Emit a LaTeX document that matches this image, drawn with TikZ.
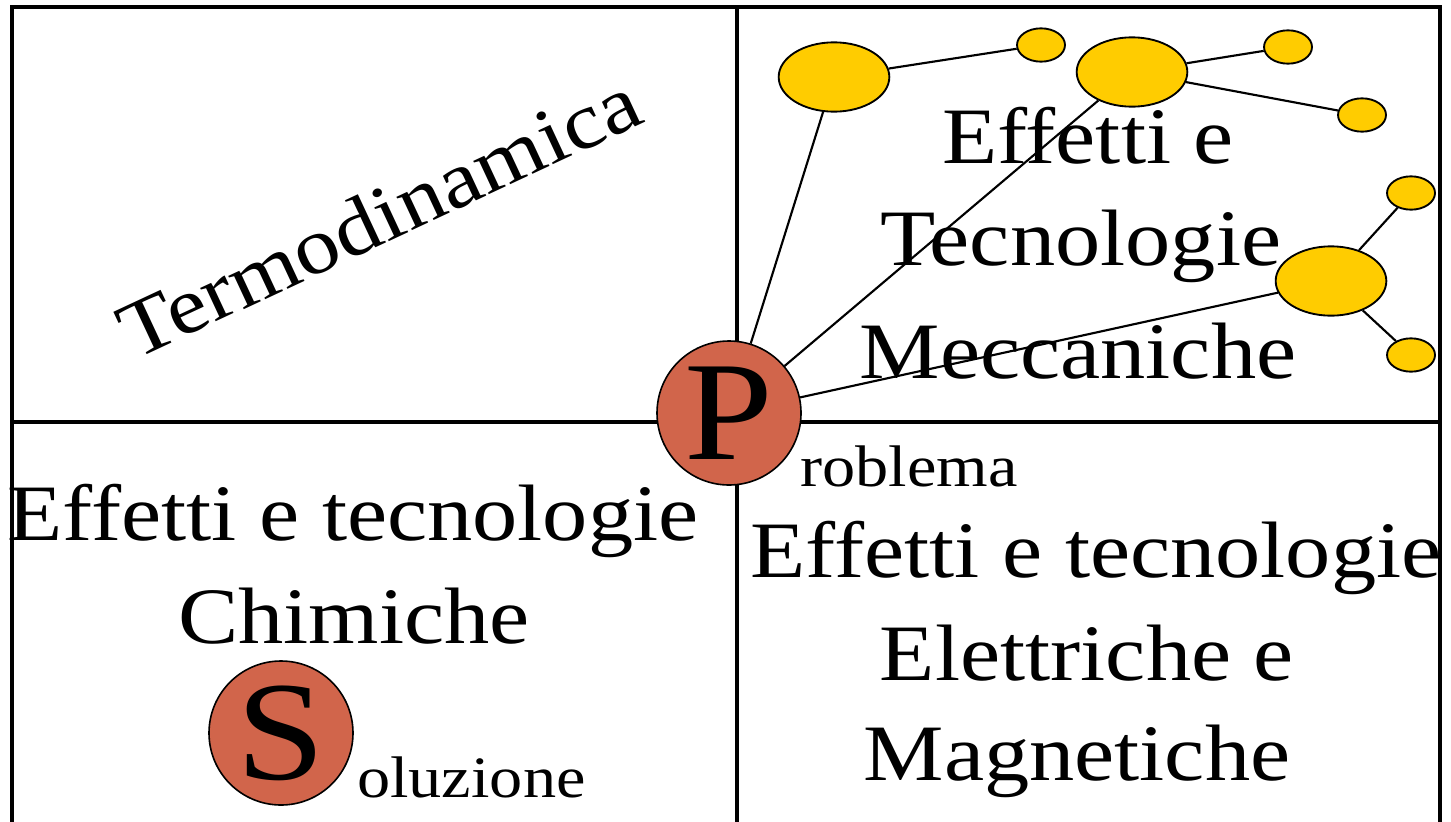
\documentclass[tikz,border=0pt]{standalone}
\usepackage{fontspec}
\setmainfont[FakeStretch=1.13]{Liberation Serif}
\usetikzlibrary{shapes.geometric}
\definecolor{probred}{RGB}{209,101,75}
\definecolor{gold}{RGB}{255,204,0}
\begin{document}
\begin{tikzpicture}[x=0.75pt,y=-0.75pt,
  frame/.style={line width=2.4pt},
  link/.style={line width=1.6pt},
  bigell/.style={ellipse,draw,fill=gold,line width=1.4pt,inner sep=0pt,minimum width=83pt,minimum height=52pt},
  smallell/.style={ellipse,draw,fill=gold,line width=1.4pt,inner sep=0pt,minimum width=36pt,minimum height=25pt},
  letter/.style={circle,draw,fill=probred,line width=1.2pt,inner sep=0pt,minimum size=108pt,font=\fontsize{106}{110}\selectfont},
  maintext/.style={font=\fontsize{60}{66}\selectfont,anchor=base,inner sep=0pt},
  smalltext/.style={font=\fontsize{44}{50}\selectfont,anchor=base west,inner sep=0pt}]
\useasboundingbox (0,0) rectangle (1451,821);
\clip (0,0) rectangle (1451,821);
% frame
\draw[frame] (12,840) -- (12,7) -- (1440,7) -- (1440,840);
\draw[frame] (737,7) -- (737,840);
\draw[frame] (12,422) -- (1440,422);
% texts
\node[font=\fontsize{60}{66}\selectfont,rotate=25,inner sep=0pt] (termo) at (379,216) {Termodinamica};
\node[maintext] (m1) at (1088,163) {Effetti e};
\node[maintext] (m2) at (1081,265) {Tecnologie};
\node[maintext] (m3) at (1078,378) {Meccaniche};
\node[maintext] (c1) at (353,540) {Effetti e tecnologie};
\node[maintext] (c2) at (354,643) {Chimiche};
\node[maintext] (e1) at (1096,577) {Effetti e tecnologie};
\node[maintext] (e2) at (1087,680) {Elettriche e};
\node[maintext] (e3) at (1077,780) {Magnetiche};
% ellipses
\node[bigell] (E1) at (834,77) {};
\node[smallell] (E2) at (1041,45) {};
\node[bigell] (E3) at (1132,72) {};
\node[smallell] (E4) at (1288,47) {};
\node[smallell] (E5) at (1362,115) {};
\node[smallell] (E6) at (1411,193) {};
\node[bigell] (E7) at (1331,281) {};
\node[smallell] (E8) at (1411,355) {};
% letters
\node[letter] (P) at (729,413) {P};
\node[letter] (S) at (281,733) {S};
\node[smalltext] (prob) at (800,486) {roblema};
\node[smalltext] (sol) at (357,797) {oluzione};
% links
\draw[link] (P) -- (E1);
\draw[link] (P) -- (E3);
\draw[link] (P) -- (E7);
\draw[link] (E1) -- (E2);
\draw[link] (E3) -- (E4);
\draw[link] (E3) -- (E5);
\draw[link] (E7) -- (E6);
\draw[link] (E7) -- (E8);
\end{tikzpicture}
\end{document}
